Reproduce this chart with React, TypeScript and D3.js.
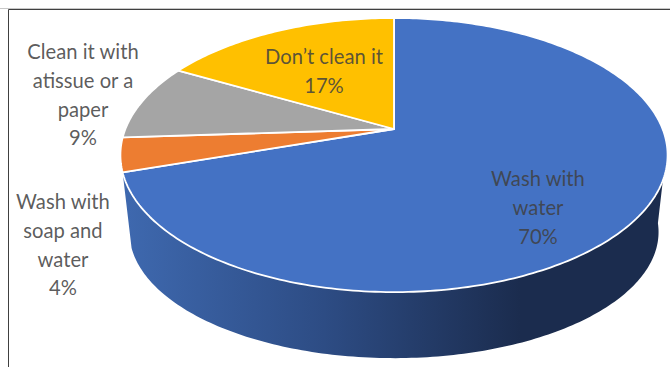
import React, { useMemo } from "react";
import * as d3 from "d3";

const categories = ["Wash with water", "Wash with soap and water", "Clean it with a tissue or a paper", "Don't clean it"];
const shares = [70, 4, 9, 17];
const sliceColors = ["#4472c4", "#ed7d31", "#a5a5a5", "#ffc000"];
const labelLines = [
  ["Wash with", "water", "70%"],
  ["Wash with", "soap and", "water", "4%"],
  ["Clean it with", "atissue or a", "paper", "9%"],
  ["Don\u2019t clean it", "17%"],
];
const labelAnchors = [
  { x: 538, y: 186 },
  { x: 63, y: 209 },
  { x: 83, y: 59 },
  { x: 324, y: 64 },
];

const WIDTH = 670;
const HEIGHT = 367;
const LINE_HEIGHT = 28.8;

// Tilted disc: a circle seen in perspective, with its hub off the ellipse centre.
const hub = { x: 394, y: 129 };
const radius = 268.6;
const tilt = -0.19;
const depthScale = 107.6;
const topCentreY = 155;
const baseCentreY = 232;
const wallShrinkX = 0.967;
const wallShrinkY = 0.92;

function project(angle: number) {
  const u = Math.sin(angle);
  const v = -Math.cos(angle);
  const w = 1 + tilt * v;
  return [hub.x + (radius * u) / w, (depthScale * v + hub.y) / w] as [number, number];
}

function projectBase(angle: number) {
  const [x, y] = project(angle);
  return [hub.x + (x - hub.x) * wallShrinkX, baseCentreY + (y - topCentreY) * wallShrinkY] as [number, number];
}

function sweep(a0: number, a1: number, fn: (a: number) => [number, number]) {
  const steps = Math.max(2, Math.ceil(Math.abs(a1 - a0) * 60));
  return d3.range(steps + 1).map((i) => fn(a0 + ((a1 - a0) * i) / steps));
}

const outline = d3.line<[number, number]>();

export default function App() {
  const slices = useMemo(
    () => d3.pie<number>().sort(null).startAngle(0).endAngle(2 * Math.PI)(shares),
    []
  );

  // Outer wall runs from the right-hand silhouette round to the end of the first slice.
  const wallEnd = slices[0].endAngle;
  const wallStart = (97 * Math.PI) / 180;
  const wallPath =
    outline([...sweep(wallStart, wallEnd, project), ...sweep(wallEnd, wallStart, projectBase)]) + "Z";

  return (
    <svg
      width={WIDTH}
      height={HEIGHT}
      viewBox={`0 0 ${WIDTH} ${HEIGHT}`}
      style={{ position: "absolute", left: 0, top: 0, background: "#fff" }}
    >
      <defs>
        <linearGradient id="wallShade" gradientUnits="userSpaceOnUse" x1={128} x2={520} y1={0} y2={0}>
          <stop offset="0" stopColor="#3e68ae" />
          <stop offset="0.5" stopColor="#2d4c84" />
          <stop offset="1" stopColor="#1b2c4e" />
        </linearGradient>
      </defs>

      <path d={`M0 8.5H${WIDTH}`} fill="none" stroke="#c8c8c8" strokeWidth={1} />
      <path d={`M8.5 367V9.5H${WIDTH}`} fill="none" stroke="#404040" strokeWidth={1} />

      <path d={wallPath} fill="url(#wallShade)" />

      {slices.map((s, i) => (
        <path
          key={categories[i]}
          d={outline([[hub.x, hub.y], ...sweep(s.startAngle, s.endAngle, project)]) + "Z"}
          fill={sliceColors[i]}
          stroke="#fff"
          strokeWidth={1.8}
          strokeLinejoin="round"
        />
      ))}

      {labelLines.map((lines, i) => (
        <text
          key={categories[i]}
          textAnchor="middle"
          fontFamily="Lato, 'Open Sans', sans-serif"
          fontSize={20.2}
          fill="#404040"
          fillOpacity={0.85}
        >
          {lines.map((line, j) => (
            <tspan key={j} x={labelAnchors[i].x} y={labelAnchors[i].y + j * LINE_HEIGHT}>
              {line}
            </tspan>
          ))}
        </text>
      ))}
    </svg>
  );
}
